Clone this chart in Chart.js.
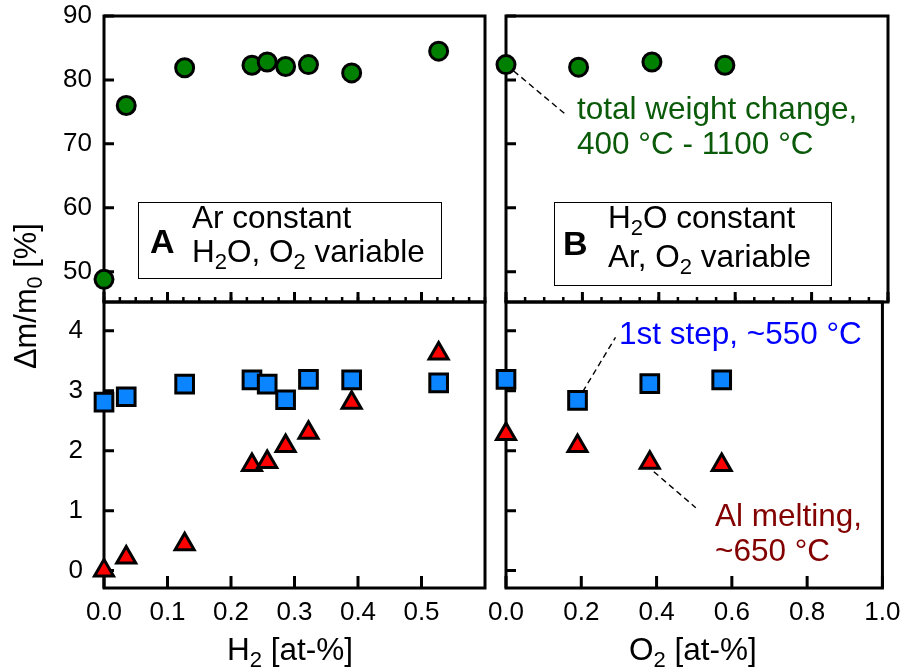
<!DOCTYPE html>
<html><head><meta charset="utf-8">
<script src="https://cdn.jsdelivr.net/npm/chart.js@4"></script>
<style>
html,body{margin:0;padding:0;background:#fff;}
#wrap{position:relative;width:910px;height:672px;overflow:hidden;font-family:"Liberation Sans",Arial,sans-serif;background:#fff;}
canvas{position:absolute;left:0;top:0;}
.t{position:absolute;white-space:nowrap;line-height:1;}
.t sub{font-size:0.7em;vertical-align:-0.3em;line-height:0;}
.box{position:absolute;border:1.3px solid #000;background:#fff;box-sizing:border-box;}
</style></head><body>
<div id="wrap">
<canvas id="cTL" width="910" height="672"></canvas>
<canvas id="cBL" width="910" height="672"></canvas>
<canvas id="cTR" width="910" height="672"></canvas>
<canvas id="cBR" width="910" height="672"></canvas>
</div>
<script>
// ---------- data ----------
const h2 = [0, 0.035, 0.127, 0.233, 0.257, 0.286, 0.322, 0.390, 0.527];
const totalH2 = [48.8, 76.0, 81.9, 82.3, 82.8, 82.1, 82.4, 81.1, 84.5];
const step1H2 = [2.81, 2.90, 3.11, 3.18, 3.11, 2.85, 3.19, 3.18, 3.13];
const meltH2 = [0.0, 0.22, 0.44, 1.76, 1.81, 2.08, 2.30, 2.80, 3.62];

const o2 = [0, 0.19, 0.382, 0.573];
const totalO2 = [82.4, 82.0, 82.8, 82.3];
const step1O2 = [3.19, 2.84, 3.12, 3.18];
const meltO2 = [2.28, 2.08, 1.80, 1.76];

const h2Ticks = [0, 0.1, 0.2, 0.3, 0.4, 0.5];
const o2Ticks = [0, 0.2, 0.4, 0.6, 0.8, 1.0];
const totalTicks = [50, 60, 70, 80, 90];
const stepTicks = [0, 1, 2, 3, 4];

// ---------- helpers ----------
const FAMILY = '"Liberation Sans", Arial, sans-serif';
const pts = (xs, ys) => xs.map((x, i) => ({x, y: ys[i]}));

function rangeSteps(a, b, s) { const r = []; for (let i = 0; a + i * s <= b + 1e-9; i++) r.push(+(a + i * s).toFixed(4)); return r; }

function framePlugin(o) {
  return {
    id: 'frame',
    beforeDatasetsDraw(chart) {
      const {ctx, chartArea: a, scales} = chart;
      ctx.save();
      ctx.strokeStyle = '#000';
      ctx.lineCap = 'butt';
      ctx.lineWidth = 3;
      ctx.beginPath();
      (o.yTicks || []).forEach(v => { const y = scales.y.getPixelForValue(v); ctx.moveTo(a.left, y); ctx.lineTo(a.left + 10, y); });
      (o.xMajor || []).forEach(v => { const x = scales.x.getPixelForValue(v); ctx.moveTo(x, a.bottom); ctx.lineTo(x, a.bottom - o.xLen); });
      ctx.stroke();
      ctx.lineWidth = 2.5;
      ctx.beginPath();
      (o.xMinor || []).forEach(v => { const x = scales.x.getPixelForValue(v); ctx.moveTo(x, a.bottom); ctx.lineTo(x, a.bottom - 5); });
      ctx.stroke();
      ctx.lineWidth = 3;
      ctx.strokeRect(a.left, a.top, a.right - a.left, a.bottom - a.top);
      (o.leaders || []).forEach(l => {
        const px = scales.x.getPixelForValue(l.x), py = scales.y.getPixelForValue(l.y);
        ctx.setLineDash([6, 4]);
        ctx.lineWidth = 1.4;
        ctx.beginPath();
        ctx.moveTo(px + l.d0[0], py + l.d0[1]);
        ctx.lineTo(px + l.d1[0], py + l.d1[1]);
        ctx.stroke();
      });
      ctx.restore();
    }
  };
}

const circleDS = (data) => ({data, pointStyle: 'circle', pointRadius: 9, pointBorderWidth: 3, pointBackgroundColor: '#008000', pointBorderColor: '#000', clip: false});
const squareDS = (data) => ({data, pointStyle: 'rect', pointRadius: 12.5, pointBorderWidth: 3, pointBackgroundColor: '#0a84ff', pointBorderColor: '#000', clip: false});
const triDS = (data) => ({data, pointStyle: 'triangle', pointRadius: 11, pointBorderWidth: 3, pointBackgroundColor: '#ff0000', pointBorderColor: '#000', clip: false});

function yAxis(min, max, tickVals, show, pad) {
  const ax = {
    type: 'linear', position: 'left', min, max, display: show,
    afterBuildTicks: s => { s.ticks = tickVals.map(v => ({value: v})); },
    ticks: {font: {family: FAMILY, size: 26, lineHeight: 0.05}, color: '#000', padding: pad, callback: v => String(v)},
    grid: {display: false, drawTicks: false}, border: {display: false}
  };
  if (show) ax.afterFit = s => { s.width = 104; };
  return ax;
}
function xAxis(min, max, tickVals, show) {
  const ax = {
    type: 'linear', position: 'bottom', min, max, display: show,
    afterBuildTicks: s => { s.ticks = tickVals.map(v => ({value: v})); },
    ticks: {font: {family: FAMILY, size: 26}, color: '#000', padding: 9.5, maxRotation: 0, autoSkip: false, callback: v => Number(v).toFixed(1)},
    grid: {display: false, drawTicks: false}, border: {display: false}
  };
  if (show) ax.afterFit = s => { s.height = 84; };
  return ax;
}

function make(id, datasets, scales, padding, frame) {
  return new Chart(document.getElementById(id), {
    type: 'scatter',
    data: {datasets},
    options: {
      responsive: false, animation: false, events: [],
      layout: {padding, autoPadding: false},
      plugins: {legend: {display: false}, tooltip: {enabled: false}},
      scales
    },
    plugins: [framePlugin(frame)]
  });
}

// Top-left: total weight change vs H2
make('cTL', [circleDS(pts(h2, totalH2))],
  {x: xAxis(0, 0.6, h2Ticks, false), y: yAxis(45.26, 90, totalTicks, true, 12)},
  {left: 0, right: 425, top: 16, bottom: 370},
  {yTicks: totalTicks, xMajor: h2Ticks, xLen: 10, xMinor: rangeSteps(0, 0.6, 0.025)});

// Bottom-left: steps vs H2
make('cBL', [triDS(pts(h2, meltH2)), squareDS(pts(h2, step1H2))],
  {x: xAxis(0, 0.6, h2Ticks, true), y: yAxis(-0.29, 4.48, stepTicks, true, 21)},
  {left: 0, right: 425, top: 302, bottom: 0},
  {yTicks: stepTicks, xMajor: h2Ticks, xLen: 12});

// Top-right: total weight change vs O2
make('cTR', [circleDS(pts(o2, totalO2))],
  {x: xAxis(0, 1.0, o2Ticks, false), y: yAxis(45.26, 90, totalTicks, false, 12)},
  {left: 506, right: 22, top: 16, bottom: 370},
  {yTicks: totalTicks, xMajor: o2Ticks, xLen: 10, xMinor: rangeSteps(0, 1.0, 0.05),
   leaders: [{x: o2[0], y: totalO2[0], d0: [0, 0], d1: [61, 51]}]});

// Bottom-right: steps vs O2
make('cBR', [triDS(pts(o2, meltO2)), squareDS(pts(o2, step1O2))],
  {x: xAxis(0, 1.0, o2Ticks, true), y: yAxis(-0.29, 4.48, stepTicks, false, 21)},
  {left: 506, right: 22, top: 302, bottom: 0},
  {yTicks: stepTicks, xMajor: o2Ticks, xLen: 12,
   leaders: [{x: o2[1], y: step1O2[1], d0: [0, 0], d1: [38, -63]},
             {x: o2[2], y: meltO2[2], d0: [4, 9], d1: [46, 45]}]});

// ---------- text overlays ----------
const wrap = document.getElementById('wrap');
function box(l, t, w, h) { const d = document.createElement('div'); d.className = 'box'; Object.assign(d.style, {left: l + 'px', top: t + 'px', width: w + 'px', height: h + 'px'}); wrap.appendChild(d); }
function txt(html, left, baseline, fs, color, bold) {
  const d = document.createElement('div'); d.className = 't'; d.innerHTML = html;
  Object.assign(d.style, {left: left + 'px', top: (baseline - 0.8464 * fs) + 'px', fontSize: fs + 'px', color: color || '#000', fontWeight: bold ? 'bold' : 'normal'});
  wrap.appendChild(d); return d;
}
const FS = 31.5;
box(138, 202, 304, 77);
txt('A', 150, 253, 34, '#000', true);
txt('Ar constant', 192, 229, FS);
txt('H<sub>2</sub>O, O<sub>2</sub> variable', 192, 263, FS);

box(554, 202, 278, 84);
txt('B', 563, 255, 34, '#000', true);
txt('H<sub>2</sub>O constant', 608, 229, FS);
txt('Ar, O<sub>2</sub> variable', 608, 268, FS);

txt('total weight change,', 577, 120, FS, '#0a5a0a');
txt('400 °C - 1100 °C', 577, 155, FS, '#0a5a0a');
txt('1st step, ~550 °C', 619, 345, FS, '#0000ff');
txt('Al melting,', 715, 527, FS, '#820000');
txt('~650 °C', 715, 562, FS, '#820000');

txt('H<sub>2</sub> [at-%]', 227, 661, FS);
txt('O<sub>2</sub> [at-%]', 629, 661, FS);

// rotated y title: starts at bottom (y=369), baseline at x=37, length fitted to ~146 px
const yt = txt('Δm/m<sub>0</sub> [%]', 0, 0, FS);
const yfs = FS * 146 / Math.max(1, yt.offsetWidth);
yt.style.fontSize = yfs + 'px';
yt.style.transformOrigin = '0 0';
yt.style.left = (37 - 0.8464 * yfs) + 'px';
yt.style.top = '369px';
yt.style.transform = 'rotate(-90deg)';
</script>
</body></html>
